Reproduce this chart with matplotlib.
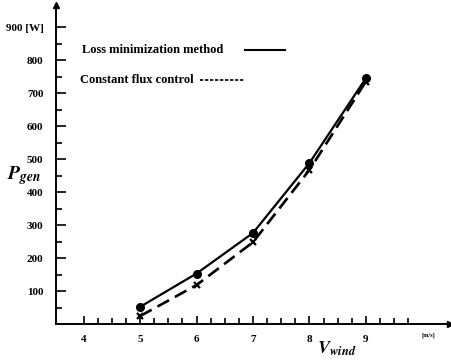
import numpy as np
import matplotlib
matplotlib.use("Agg")
import matplotlib.pyplot as plt
from matplotlib.lines import Line2D

# data
wind_speed = [5, 6, 7, 8, 9]
p_loss_min = [52, 153, 276, 488, 745]
p_const_flux = [24, 118, 248, 467, 735]

y_ticks = [100, 200, 300, 400, 500, 600, 700, 800, 900]
y_tick_labels = ["100", "200", "300", "400", "500", "600", "700", "800", "900 [W]"]
x_ticks = [4, 5, 6, 7, 8, 9]

plt.rcParams["font.family"] = ["Liberation Serif", "DejaVu Serif"]
plt.rcParams["font.weight"] = "bold"
plt.rcParams["mathtext.fontset"] = "stix"

fig = plt.figure(figsize=(4.51, 3.6), dpi=100)
ax = fig.add_axes([56 / 451, 0.1, (450 - 56) / 451, (324 - 5) / 360])

ax.plot(wind_speed, p_loss_min, color="black", lw=1.6, marker="o", ms=5.5)
ax.plot(wind_speed, p_const_flux, color="black", lw=1.9, ls=(0, (5, 2.5)),
        marker="x", ms=5, mew=1.6)

ax.set_xlim(3.51, 10.49)
ax.set_ylim(0, 967)

for s in ["top", "right"]:
    ax.spines[s].set_visible(False)
ax.spines["left"].set_linewidth(1.4)
ax.spines["bottom"].set_linewidth(1.4)

# axis arrows
ax.plot(0, 1, marker="^", color="black", ms=5, transform=ax.transAxes, clip_on=False)
ax.plot(1, 0, marker=">", color="black", ms=5, transform=ax.transAxes, clip_on=False)

ax.set_yticks(y_ticks)
ax.set_yticklabels(y_tick_labels, fontsize=8, fontweight="bold")
ax.set_yticks(np.arange(50, 901, 50), minor=True)
ax.set_xticks(x_ticks)
ax.set_xticklabels([str(v) for v in x_ticks], fontsize=8, fontweight="bold")
ax.set_xticks(np.arange(4, 9.8, 0.25), minor=True)
ax.tick_params(axis="y", which="major", direction="in", length=7, width=1.2, pad=9)
ax.tick_params(axis="y", which="minor", direction="in", length=4, width=1.2)
ax.tick_params(axis="x", which="major", direction="in", length=6, width=1.2, pad=8)
ax.tick_params(axis="x", which="minor", direction="in", length=4, width=1.2)

# unit on x axis
ax.text(10.1, -0.035, "[m/s]", transform=ax.get_xaxis_transform(),
        fontsize=4.5, ha="center", va="center", fontweight="bold")

# axis titles
fig.text(24 / 451, 1 - 176 / 360, r"$\mathbfit{P}_{\mathit{gen}}$", fontsize=14,
         ha="center", va="center")
fig.text(337 / 451, 1 - 349 / 360, r"$\mathbfit{V}_{\mathbfit{wind}}$", fontsize=13,
         ha="center", va="center")

# legend drawn as text with line samples
fig.text(82 / 451, 1 - 50 / 360, "Loss minimization method", fontsize=9,
         fontweight="bold", va="center")
fig.add_artist(Line2D([245 / 451, 285 / 451], [1 - 50 / 360, 1 - 50 / 360],
                      color="black", lw=1.5))
fig.text(80 / 451, 1 - 80 / 360, "Constant flux control", fontsize=9,
         fontweight="bold", va="center")
fig.add_artist(Line2D([200 / 451, 245 / 451], [1 - 80 / 360, 1 - 80 / 360],
                      color="black", lw=1.2, ls=(0, (2, 1))))

fig.savefig("out.png", dpi=100)
